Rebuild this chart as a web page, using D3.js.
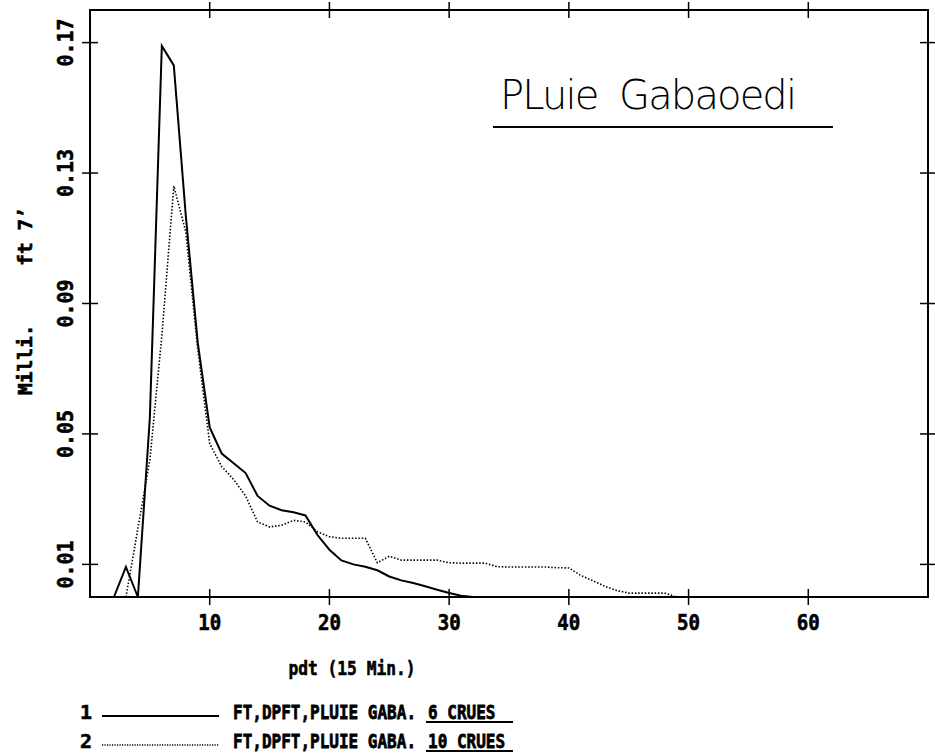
<!DOCTYPE html>
<html>
<head>
<meta charset="utf-8">
<script src="https://cdn.jsdelivr.net/npm/d3@7"></script>
<style>
    body { margin: 0; background: #fff; }
    svg { display: block; }
    .lbl { font-family: "DejaVu Sans Mono", monospace; font-weight: bold; fill: #000; stroke: #000; stroke-width: 0.6px; }
</style>
</head>
<body>
<div id="chart"></div>
<script>
// Tick values
const xTicks = [10, 20, 30, 40, 50, 60];
const yTicks = [0.01, 0.05, 0.09, 0.13, 0.17];
const yTickLabels = ["0.01", "0.05", "0.09", "0.13", "0.17"];

// Series 1: 6 crues (solid)
const t1 = [2, 3, 4, 5, 6, 7, 8, 9, 10, 11, 12, 13, 14, 15, 16, 17, 18, 19, 20, 21, 22, 23, 24, 25, 26, 27, 28, 29, 30, 31, 32];
const v1 = [0, 0.0092, 0, 0.055, 0.169, 0.163, 0.117, 0.078, 0.052, 0.044, 0.041, 0.038, 0.031, 0.028, 0.0266, 0.026, 0.025,
    0.019, 0.0145, 0.0112, 0.010, 0.0093, 0.0082, 0.0063, 0.0051, 0.0043, 0.0033, 0.0022, 0.0012, 0.0004, 0];

// Series 2: 10 crues (dotted)
const t2 = [3, 4, 5, 6, 7, 8, 9, 10, 11, 12, 13, 14, 15, 16, 17, 18, 19, 20, 21, 22, 23, 24, 25, 26, 27, 28, 29, 30,
    31, 32, 33, 34, 35, 36, 37, 38, 39, 40, 41, 42, 43, 44, 45, 46, 47, 48, 49];
const v2 = [0, 0.021, 0.042, 0.080, 0.126, 0.112, 0.076, 0.047, 0.040, 0.036, 0.031, 0.023, 0.0215, 0.022, 0.0235, 0.023,
    0.020, 0.0185, 0.018, 0.018, 0.018, 0.0105, 0.0125, 0.0113, 0.0113, 0.0113, 0.0113, 0.0105, 0.0104, 0.0104, 0.0104,
    0.0093, 0.0092, 0.0092, 0.0092, 0.0092, 0.009, 0.0089, 0.0066, 0.005, 0.0033, 0.002, 0.0012, 0.0012, 0.0012, 0.0012, 0];

const legendNames = ["FT,DPFT,PLUIE GABA.", "FT,DPFT,PLUIE GABA."];
const legendCrues = ["6 CRUES", "10 CRUES"];

const width = 935,
    height = 756;
const m = { left: 90, right: 928, top: 10, bottom: 597 };

const svg = d3.select("#chart").append("svg")
    .attr("width", width)
    .attr("height", height);

const x = d3.scaleLinear().domain([0, 70]).range([m.left, m.right]);
const y = d3.scaleLinear().domain([0, 0.18]).range([m.bottom, m.top]);

// Frame
svg.append("rect")
    .attr("x", m.left).attr("y", m.top)
    .attr("width", m.right - m.left).attr("height", m.bottom - m.top)
    .attr("fill", "none").attr("stroke", "#000").attr("stroke-width", 2);

// Ticks crossing the frame on all four sides
const tk = 8;
svg.append("g").selectAll("line").data(xTicks).join("line")
    .attr("x1", (d) => x(d)).attr("x2", (d) => x(d))
    .attr("y1", m.bottom - tk).attr("y2", m.bottom + tk)
    .attr("stroke", "#000").attr("stroke-width", 1.5);
svg.append("g").selectAll("line").data(xTicks).join("line")
    .attr("x1", (d) => x(d)).attr("x2", (d) => x(d))
    .attr("y1", m.top - tk).attr("y2", m.top + tk)
    .attr("stroke", "#000").attr("stroke-width", 1.5);
svg.append("g").selectAll("line").data(yTicks).join("line")
    .attr("x1", m.left - tk).attr("x2", m.left + tk)
    .attr("y1", (d) => y(d)).attr("y2", (d) => y(d))
    .attr("stroke", "#000").attr("stroke-width", 1.5);
svg.append("g").selectAll("line").data(yTicks).join("line")
    .attr("x1", m.right - tk).attr("x2", m.right + tk)
    .attr("y1", (d) => y(d)).attr("y2", (d) => y(d))
    .attr("stroke", "#000").attr("stroke-width", 1.5);

// Tick labels
svg.append("g").selectAll("text").data(xTicks).join("text")
    .attr("class", "lbl")
    .attr("x", (d) => x(d)).attr("y", 630)
    .attr("text-anchor", "middle")
    .attr("font-size", 21)
    .attr("textLength", 23)
    .attr("lengthAdjust", "spacingAndGlyphs")
    .text((d) => d);

svg.append("g").selectAll("text").data(yTicks).join("text")
    .attr("class", "lbl")
    .attr("transform", (d) => "translate(73," + y(d) + ") rotate(-90)")
    .attr("text-anchor", "middle")
    .attr("font-size", 21)
    .attr("textLength", 48)
    .attr("lengthAdjust", "spacingAndGlyphs")
    .text((d, i) => yTickLabels[i]);

// Axis titles
svg.append("text")
    .attr("class", "lbl")
    .attr("x", 352).attr("y", 675)
    .attr("text-anchor", "middle")
    .attr("font-size", 20)
    .attr("textLength", 127)
    .attr("lengthAdjust", "spacingAndGlyphs")
    .text("pdt (15 Min.)");

svg.append("text")
    .attr("class", "lbl")
    .attr("transform", "translate(32,301) rotate(-90)")
    .attr("text-anchor", "middle")
    .attr("font-size", 20)
    .attr("textLength", 188)
    .attr("lengthAdjust", "spacingAndGlyphs")
    .style("white-space", "pre")
    .text("Milli.     ft 7’");

// Curves
const line = d3.line()
    .x((d) => x(d[0]))
    .y((d) => y(d[1]));

svg.append("path")
    .datum(t1.map((t, i) => [t, v1[i]]))
    .attr("d", line)
    .attr("fill", "none")
    .attr("stroke", "#000")
    .attr("stroke-width", 2);

svg.append("path")
    .datum(t2.map((t, i) => [t, v2[i]]))
    .attr("d", line)
    .attr("fill", "none")
    .attr("stroke", "#000")
    .attr("stroke-width", 1.6)
    .attr("stroke-dasharray", "1.5,1.8");

// Handwritten title
svg.append("text")
    .attr("x", 500).attr("y", 109)
    .attr("font-family", "DejaVu Sans")
    .attr("font-weight", 300)
    .attr("font-size", 40)
    .attr("textLength", 297)
    .attr("lengthAdjust", "spacing")
    .style("white-space", "pre")
    .text("PLuie  Gabaoedi");
svg.append("line")
    .attr("x1", 493).attr("x2", 833)
    .attr("y1", 127).attr("y2", 127)
    .attr("stroke", "#000").attr("stroke-width", 2);

// Legend (narrow bold mono, stretched vertically)
const rowY = [719, 748];
const legend = svg.append("g");
rowY.forEach((ry, i) => {
    legend.append("text")
        .attr("class", "lbl")
        .attr("x", 80).attr("y", ry)
        .attr("font-size", 20)
        .text(i + 1);
    legend.append("line")
        .attr("x1", 102).attr("x2", 219)
        .attr("y1", ry - 3).attr("y2", ry - 3)
        .attr("stroke", "#000")
        .attr("stroke-width", i === 0 ? 2 : 1.4)
        .attr("stroke-dasharray", i === 0 ? null : "1.2,1.3");
    legend.append("text")
        .attr("class", "lbl")
        .attr("transform", "translate(233," + ry + ") scale(1,1.25)")
        .attr("font-size", 16)
        .text(legendNames[i]);
    legend.append("text")
        .attr("class", "lbl")
        .attr("transform", "translate(428," + ry + ") scale(1,1.25)")
        .attr("font-size", 16)
        .text(legendCrues[i]);
    legend.append("line")
        .attr("x1", 426).attr("x2", 513)
        .attr("y1", ry + 3).attr("y2", ry + 3)
        .attr("stroke", "#000").attr("stroke-width", 2);
});
</script>
</body>
</html>
